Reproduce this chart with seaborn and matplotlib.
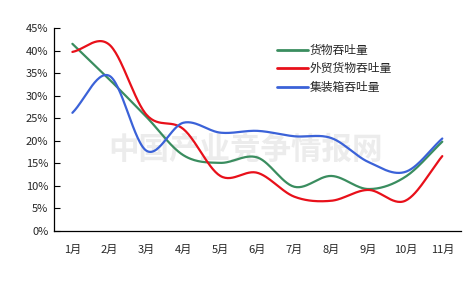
import numpy as np
import pandas as pd
import matplotlib
matplotlib.use("Agg")
import matplotlib.pyplot as plt
import seaborn as sns

months = ["1月", "2月", "3月", "4月", "5月", "6月", "7月", "8月", "9月", "10月", "11月"]
cargo = [41.5, 33.6, 25.3, 16.8, 15.1, 16.3, 9.8, 12.2, 9.3, 12.0, 19.8]
foreign = [39.7, 41.3, 25.8, 22.6, 12.2, 12.9, 7.6, 6.7, 9.1, 6.7, 16.6]
container = [26.2, 34.4, 17.8, 24.0, 21.8, 22.2, 21.0, 20.6, 15.3, 13.1, 20.5]
series_names = ["货物吞吐量", "外贸货物吞吐量", "集装箱吞吐量"]
colors = ["#3a8d5f", "#e8101a", "#3b62d8"]
yticks = [0, 5, 10, 15, 20, 25, 30, 35, 40, 45]


def catmull_rom(x, y, n=30):
    x = np.asarray(x, float)
    y = np.asarray(y, float)
    px = np.concatenate([[2 * x[0] - x[1]], x, [2 * x[-1] - x[-2]]])
    py = np.concatenate([[2 * y[0] - y[1]], y, [2 * y[-1] - y[-2]]])
    xs, ys = [], []
    for i in range(1, len(px) - 2):
        t = np.linspace(0, 1, n, endpoint=False)
        p0, p1, p2, p3 = py[i - 1], py[i], py[i + 1], py[i + 2]
        q0, q1, q2, q3 = px[i - 1], px[i], px[i + 1], px[i + 2]
        f = lambda a0, a1, a2, a3: 0.5 * ((2 * a1) + (-a0 + a2) * t
                                          + (2 * a0 - 5 * a1 + 4 * a2 - a3) * t ** 2
                                          + (-a0 + 3 * a1 - 3 * a2 + a3) * t ** 3)
        xs.append(f(q0, q1, q2, q3))
        ys.append(f(p0, p1, p2, p3))
    xs.append([x[-1]])
    ys.append([y[-1]])
    return np.concatenate(xs), np.concatenate(ys)


frames = []
idx = np.arange(len(months))
for name, vals in zip(series_names, [cargo, foreign, container]):
    sx, sy = catmull_rom(idx, vals)
    frames.append(pd.DataFrame({"x": sx, "y": sy, "series": name}))
df = pd.concat(frames, ignore_index=True)

sns.set_theme(style="white")
plt.rcParams["font.family"] = ["Noto Sans CJK SC", "DejaVu Sans"]

fig = plt.figure(figsize=(4.77, 2.92), dpi=100)
ax = fig.add_axes([0.113, 0.209, 0.853, 0.695])

# watermark
ax.text(0.47, 0.40, "中国产业竞争情报网", transform=ax.transAxes, ha="center", va="center",
        fontsize=22, fontweight="bold", color="#ececec", zorder=0)

sns.lineplot(data=df, x="x", y="y", hue="series", palette=colors, sort=False,
             estimator=None, linewidth=1.6, ax=ax, zorder=3)

ax.set_xlim(-0.5, len(months) - 0.5)
ax.set_ylim(0, 45)
ax.set_yticks(yticks)
ax.set_yticklabels([f"{v}%" for v in yticks], fontsize=8)
ax.set_xticks(idx)
ax.set_xticklabels(months, fontsize=8)
ax.set_xticks(np.arange(-0.5, len(months)), minor=True)
ax.tick_params(axis="x", which="major", length=0, pad=10)
ax.tick_params(axis="x", which="minor", direction="in", length=4, width=0.8, color="black")
ax.tick_params(axis="y", direction="in", length=4, width=0.8, color="black", left=True, pad=4)
ax.set_xlabel("")
ax.set_ylabel("")
for s in ["top", "right"]:
    ax.spines[s].set_visible(False)
for s in ["left", "bottom"]:
    ax.spines[s].set_color("black")
    ax.spines[s].set_linewidth(0.9)

leg = ax.legend(loc="upper left", bbox_to_anchor=(0.535, 0.95), frameon=False, fontsize=8.5,
                handlelength=2.6, handletextpad=0.1, labelspacing=0.45, borderpad=0)
for line in leg.get_lines():
    line.set_linewidth(2)

fig.savefig("out.png", dpi=100, facecolor="white")
